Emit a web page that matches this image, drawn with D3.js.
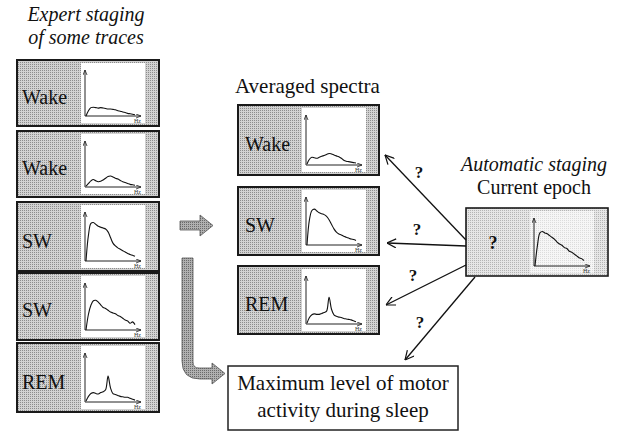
<!DOCTYPE html>
<html><head><meta charset="utf-8">
<script src="https://cdn.jsdelivr.net/npm/d3@7"></script>
<style>body{margin:0;background:#fff}svg{display:block}</style>
</head><body>
<script>
// ---- data (spectrum amplitudes, 0..1 of axis height) ----
const wake1 = [0.00,0.12,0.19,0.20,0.19,0.18,0.19,0.18,0.17,0.16,0.16,0.15,0.14,0.12,0.11,0.09,0.08,0.06,0.05,0.04,0.03];
const wake2 = [0.02,0.08,0.14,0.17,0.14,0.12,0.13,0.16,0.20,0.24,0.25,0.23,0.20,0.18,0.15,0.12,0.10,0.08,0.06,0.05,0.04];
const sw1   = [0.00,0.55,0.80,0.82,0.78,0.74,0.72,0.70,0.68,0.62,0.50,0.38,0.32,0.28,0.25,0.22,0.19,0.16,0.14,0.12,0.10];
const sw2   = [0.00,0.35,0.55,0.65,0.66,0.62,0.56,0.50,0.48,0.44,0.40,0.38,0.36,0.32,0.30,0.26,0.22,0.20,0.15,0.18,0.12];
const rem1  = [0.02,0.12,0.18,0.20,0.18,0.17,0.20,0.22,0.26,0.55,0.30,0.18,0.16,0.14,0.12,0.11,0.10,0.10,0.08,0.06,0.04];
const avgWake = [0.02,0.12,0.16,0.15,0.14,0.16,0.18,0.20,0.22,0.24,0.23,0.21,0.19,0.17,0.14,0.10,0.08,0.07,0.06,0.05,0.04];
const avgSW   = [0.00,0.55,0.75,0.78,0.74,0.70,0.68,0.66,0.62,0.55,0.45,0.35,0.28,0.24,0.22,0.19,0.17,0.15,0.13,0.12,0.10];
const avgREM  = [0.02,0.14,0.20,0.22,0.21,0.21,0.23,0.25,0.28,0.58,0.32,0.20,0.17,0.15,0.14,0.12,0.11,0.10,0.09,0.07,0.05];
const currentEpoch = [0.00,0.45,0.72,0.75,0.72,0.70,0.66,0.62,0.58,0.52,0.48,0.45,0.40,0.38,0.32,0.30,0.26,0.22,0.18,0.16,0.12];

const expertLabels = ["Wake","Wake","SW","SW","REM"];
const expertSpectra = [wake1, wake2, sw1, sw2, rem1];
const avgLabels = ["Wake","SW","REM"];
const avgSpectra = [avgWake, avgSW, avgREM];
const questionMark = "?";
const titleExpert = ["Expert staging","of some traces"];
const titleAvg = "Averaged spectra";
const titleAuto = ["Automatic staging","Current epoch"];
const motorText = ["Maximum level of motor","activity during sleep"];

// ---- drawing ----
const W = 626, H = 433;
const svg = d3.select("body").append("svg").attr("width", W).attr("height", H);
const SERIF = "'Liberation Serif','Times New Roman',serif";
const defs = svg.append("defs");

function dotPattern(id, base, dot) {
  const p = defs.append("pattern").attr("id", id).attr("patternUnits","userSpaceOnUse")
    .attr("width", 2).attr("height", 2);
  p.append("rect").attr("width",2).attr("height",2).attr("fill",base);
  p.append("rect").attr("width",1).attr("height",1).attr("fill",dot);
}
dotPattern("halftone", "#d2d2d2", "#8c8c8c");
dotPattern("halftoneLight", "#e6e6e6", "#b4b4b4");
dotPattern("halftoneArrow", "#b0b0b0", "#6a6a6a");
dotPattern("plotLight", "#f6f6f6", "#dcdcdc");

const arrowHeadMarker = defs.append("marker").attr("id","ah").attr("viewBox","0 0 10 10")
  .attr("refX",10).attr("refY",5).attr("markerWidth",10).attr("markerHeight",10)
  .attr("markerUnits","userSpaceOnUse").attr("orient","auto");
arrowHeadMarker.append("path").attr("d","M1,0.5 L10,5 L1,9.5").attr("fill","none")
  .attr("stroke","#111").attr("stroke-width",1.2);
const smallAH = defs.append("marker").attr("id","sah").attr("viewBox","0 0 10 10")
  .attr("refX",10).attr("refY",5).attr("markerWidth",5).attr("markerHeight",5)
  .attr("markerUnits","userSpaceOnUse").attr("orient","auto");
smallAH.append("path").attr("d","M0,1 L10,5 L0,9").attr("fill","none")
  .attr("stroke","#222").attr("stroke-width",1.6);

function spectrumBox(x, y, w, h, label, data, opts) {
  const g = svg.append("g");
  g.append("rect").attr("x",x).attr("y",y).attr("width",w).attr("height",h)
    .attr("fill", opts.fill).attr("stroke","#1a1a1a").attr("stroke-width", opts.sw || 2);
  g.append("rect").attr("x", x+64).attr("y", y+3).attr("width", 64).attr("height", h-6)
    .attr("fill", opts.plotFill);
  g.append("text").attr("x", x + (opts.labelDx || 5)).attr("y", y + h*0.66)
    .attr("font-family", SERIF).attr("font-size", opts.labelSize || 20)
    .attr("fill","#111").text(label);
  const ox = x + 68, oy = y + h - 10, top = y + 10, xEnd = x + 124;
  const xs = d3.scaleLinear().domain([0, data.length-1]).range([ox+1, xEnd-6]);
  const ys = d3.scaleLinear().domain([0, 1]).range([oy, top+2]);
  g.append("line").attr("x1",ox).attr("y1",oy).attr("x2",ox).attr("y2",top)
    .attr("stroke","#222").attr("stroke-width",1).attr("marker-end","url(#sah)");
  g.append("line").attr("x1",ox).attr("y1",oy).attr("x2",xEnd).attr("y2",oy)
    .attr("stroke","#222").attr("stroke-width",1).attr("marker-end","url(#sah)");
  g.append("text").attr("x", xEnd-7).attr("y", oy+7).attr("font-family",SERIF)
    .attr("font-size",6).attr("fill","#333").text("Hz");
  const line = d3.line().x((d,i)=>xs(i)).y(d=>ys(d)).curve(d3.curveCatmullRom.alpha(0.5));
  g.append("path").attr("d", line(data)).attr("fill","none")
    .attr("stroke","#111").attr("stroke-width",1.1);
}

// Expert staging column
svg.append("g").selectAll("text").data(titleExpert).join("text")
  .attr("x", 86).attr("y",(d,i)=>21+i*22.5).attr("text-anchor","middle")
  .attr("font-family",SERIF).attr("font-style","italic").attr("font-size",20)
  .attr("fill","#111").text(d=>d);
const leftBoxes = [[60,66],[131,66],[202,69],[273,67],[343,69]];
expertLabels.forEach((lab,i)=>{
  spectrumBox(17, leftBoxes[i][0], 142, leftBoxes[i][1], lab, expertSpectra[i],
    {fill:"url(#halftone)", plotFill:"#fff"});
});

// Averaged spectra column
svg.append("text").attr("x",235).attr("y",93).attr("font-family",SERIF)
  .attr("font-size",21).attr("fill","#111").text(titleAvg);
const midBoxes = [[105,70],[187,68],[266,68]];
avgLabels.forEach((lab,i)=>{
  spectrumBox(238, midBoxes[i][0], 141, midBoxes[i][1], lab, avgSpectra[i],
    {fill:"url(#halftone)", plotFill:"#fff", labelDx:7});
});

// Automatic staging
svg.append("g").selectAll("text").data(titleAuto).join("text")
  .attr("x", 534).attr("y",(d,i)=>171+i*22.5).attr("text-anchor","middle")
  .attr("font-family",SERIF).attr("font-style",(d,i)=>i===0?"italic":"normal")
  .attr("font-size",20).attr("fill","#111").text(d=>d);
spectrumBox(466, 208, 142, 68, "", currentEpoch,
  {fill:"url(#halftoneLight)", plotFill:"url(#plotLight)", sw:1.6});
svg.append("text").attr("x",493).attr("y",249).attr("text-anchor","middle")
  .attr("font-family",SERIF).attr("font-weight","bold").attr("font-size",18)
  .attr("fill","#111").text(questionMark);

// thin arrows with question marks
const thinArrows = [
  {x1:466,y1:240,x2:385,y2:155,qx:419,qy:178},
  {x1:466,y1:246,x2:387,y2:243,qx:417,qy:235},
  {x1:466,y1:265,x2:386,y2:305,qx:413,qy:281},
  {x1:475,y1:277,x2:405,y2:360,qx:420,qy:328}
];
thinArrows.forEach(a=>{
  svg.append("line").attr("x1",a.x1).attr("y1",a.y1).attr("x2",a.x2).attr("y2",a.y2)
    .attr("stroke","#111").attr("stroke-width",1.3).attr("marker-end","url(#ah)");
  svg.append("text").attr("x",a.qx).attr("y",a.qy).attr("text-anchor","middle")
    .attr("font-family",SERIF).attr("font-weight","bold").attr("font-size",17)
    .attr("fill","#111").text(questionMark);
});

// thick gray arrows
svg.append("path")
  .attr("d","M180,221 L200,221 L200,215 L213,225.5 L200,236 L200,230 L180,230 Z")
  .attr("fill","url(#halftoneArrow)").attr("stroke","#555").attr("stroke-width",0.8);
svg.append("path")
  .attr("d","M182,258 L193,258 L193,362 Q193,368 199,368 L212,368 L212,363 L225,373.5 L212,384 L212,379 L200,379 Q182,379 182,361 Z")
  .attr("fill","url(#halftoneArrow)").attr("stroke","#555").attr("stroke-width",0.8);

// motor activity box
svg.append("rect").attr("x",228).attr("y",366).attr("width",230).attr("height",64)
  .attr("fill","#fff").attr("stroke","#222").attr("stroke-width",1.5);
svg.append("g").selectAll("text").data(motorText).join("text")
  .attr("x",343).attr("y",(d,i)=>390+i*27).attr("text-anchor","middle")
  .attr("font-family",SERIF).attr("font-size",21).attr("fill","#111").text(d=>d);
</script>
</body></html>
